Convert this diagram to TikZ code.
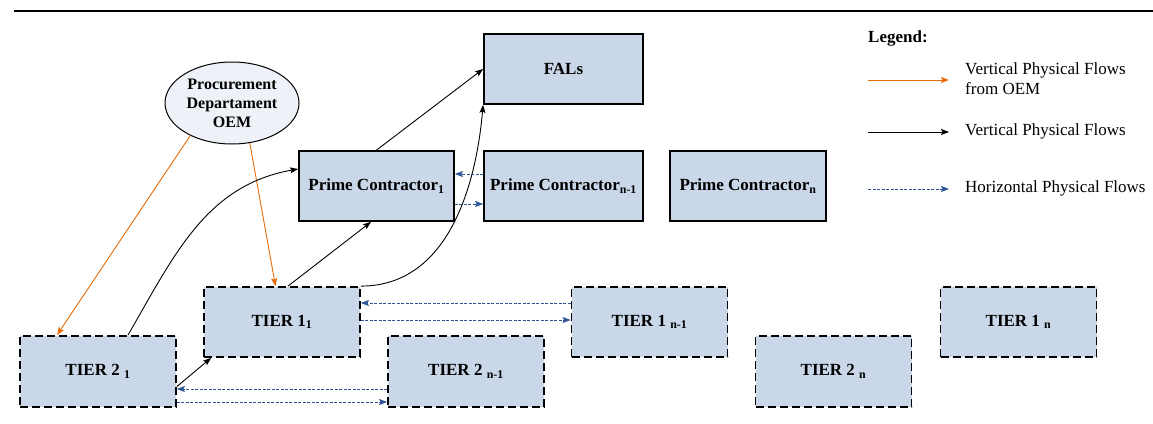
\documentclass[tikz,border=0pt]{standalone}
\usepackage{fontspec}
\setmainfont{Liberation Serif}
\usetikzlibrary{arrows.meta,calc,shapes.geometric}
\definecolor{boxfill}{HTML}{C9D7E8}
\definecolor{ellfill}{HTML}{EEF1F7}
\definecolor{oemorange}{HTML}{E46C0A}
\definecolor{hblue}{HTML}{2F5597}
\newcommand{\mysub}[1]{\textsubscript{#1}}
\tikzset{
  solidbox/.style={draw=black, line width=1.8pt, fill=boxfill, minimum width=156pt, minimum height=70pt, inner sep=0pt, font=\fontsize{17}{19}\selectfont\bfseries},
  tierbox/.style={solidbox, dash pattern=on 8pt off 4pt},
  oemell/.style={ellipse, draw=black, line width=1pt, fill=ellfill, minimum width=134pt, minimum height=82pt, inner sep=0pt, align=center, font=\fontsize{16}{19}\selectfont\bfseries},
  tip/.style={-{Stealth[length=8pt,width=6pt,inset=1.5pt]}},
  orangeflow/.style={tip, draw=oemorange, line width=0.9pt},
  blackflow/.style={tip, draw=black, line width=0.9pt},
  blueflow/.style={tip, draw=hblue, line width=0.9pt, dash pattern=on 3pt off 1.5pt},
  legtext/.style={anchor=west, inner sep=0pt, align=left, font=\fontsize{17}{20}\selectfont},
}
\begin{document}
\begin{tikzpicture}[x=1pt,y=-1pt]
\useasboundingbox (0,0) rectangle (1153,423);
\draw[line width=2pt] (14,11) -- (1153,11) coordinate (topend);

% nodes
\node[solidbox, minimum width=159pt] (fals) at (563.5,69) {FALs};
\node[solidbox, minimum width=155pt] (pc1) at (376.5,186) {Prime Contractor\mysub{1}};
\node[solidbox, minimum width=159pt] (pcn1) at (563.5,186) {Prime Contractor\mysub{n-1}};
\node[solidbox] (pcn) at (748,186) {Prime Contractor\mysub{n}};
\node[oemell] (oem) at (232,103) {Procurement\\Departament\\OEM};

\node[tierbox] (t11) at (282,322) {TIER 1\mysub{1}};
\node[tierbox] (t1n1) at (649.5,322) {TIER 1 \mysub{n-1}};
\node[tierbox] (t1n) at (1018.5,322) {TIER 1 \mysub{n}};
\node[tierbox, minimum height=71pt] (t21) at (98,371.5) {TIER 2 \mysub{1}};
\node[tierbox, minimum height=71pt] (t2n1) at (466,371.5) {TIER 2 \mysub{n-1}};
\node[tierbox, minimum height=71pt] (t2n) at (833.5,371.5) {TIER 2 \mysub{n}};

% orange flows
\draw[orangeflow] (oem.218) -- ($(t21.north)+(-41,0)$);
\draw[orangeflow] (oem.294) -- ($(t11.north)+(-6.5,0)$);

% black flows
\draw[blackflow] ($(t21.north)+(30,0)$) to[out=60, in=190] ($(pc1.west)+(0,-17)$);
\draw[blackflow] ($(t11.north)+(6,0)$) -- ($(pc1.south)+(-5.5,0)$);
\draw[blackflow] (pc1.north) -- (fals.west);
\draw[blackflow] (t11.north east) to[out=0, in=-95] (fals.south west);
\draw[blackflow] ($(t21.east)+(0,15)$) -- ($(t11.south west)+(8,0)$);

% blue dashed flows
\draw[blueflow] ($(pcn1.west)+(0,-12)$) -- ($(pc1.east)+(0,-12)$);
\draw[blueflow] ($(pc1.east)+(0,18)$) -- ($(pcn1.west)+(0,18)$);
\draw[blueflow] ($(t1n1.west)+(0,-19)$) -- ($(t11.east)+(0,-19)$);
\draw[blueflow] ($(t11.east)+(0,-2)$) -- ($(t1n1.west)+(0,-2)$);
\draw[blueflow] ($(t2n1.west)+(0,17.5)$) -- ($(t21.east)+(0,17.5)$);
\draw[blueflow] ($(t21.east)+(0,30.5)$) -- ($(t2n1.west)+(0,30.5)$);

% legend
\node[legtext, font=\fontsize{17}{20}\selectfont\bfseries] (legtitle) at (868,38) {Legend:};
\coordinate (lo1) at (868,80); \coordinate (lo2) at (949,80);
\coordinate (lb1) at (868,132); \coordinate (lb2) at (949,132);
\coordinate (lh1) at (868,189); \coordinate (lh2) at (949,189);
\draw[orangeflow] (lo1) -- (lo2);
\draw[blackflow] (lb1) -- (lb2);
\draw[blueflow] (lh1) -- (lh2);
\node[legtext] (lt1) at (965,79) {Vertical Physical Flows\\from OEM};
\node[legtext] (lt2) at (965,131) {Vertical Physical Flows};
\node[legtext] (lt3) at (965,188) {Horizontal Physical Flows};
\end{tikzpicture}
\end{document}
